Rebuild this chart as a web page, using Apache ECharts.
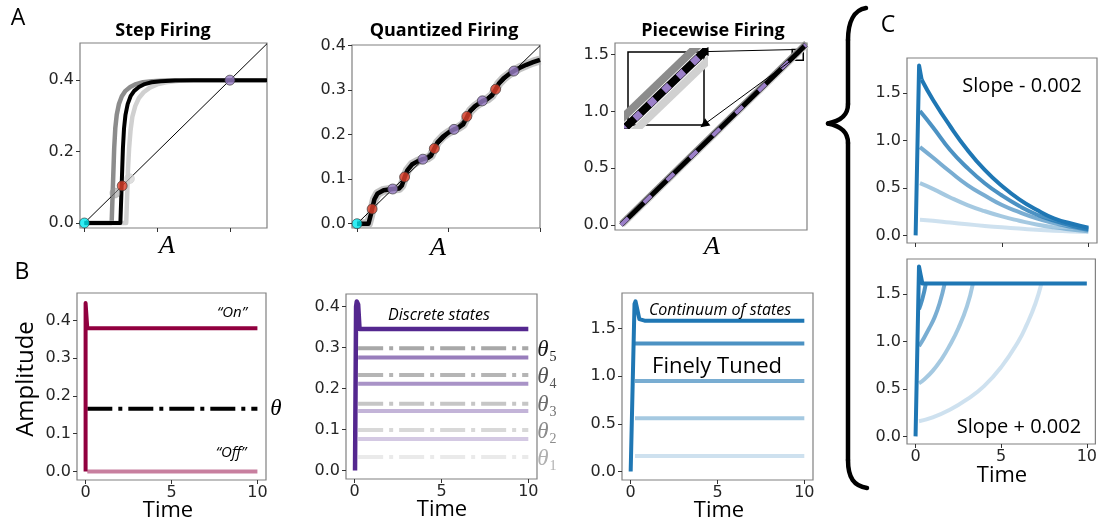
<!DOCTYPE html>
<html>
<head>
<meta charset="utf-8">
<script src="https://cdn.jsdelivr.net/npm/echarts@6/dist/echarts.min.js"></script>
<style>
  html, body { margin: 0; background: #fff; }
  #chart { width: 1100px; height: 525px; }
</style>
</head>
<body>
<div id="chart"></div>
<script>
// ---- A: firing-rate maps (x = A, y = f(A)) ----
const stepBlack = [[0,0],[0.099,0],[0.1,0.03],[0.102,0.09],[0.104,0.15],[0.106,0.21],[0.109,0.265],[0.113,0.303],[0.119,0.333],[0.127,0.355],[0.137,0.37],[0.15,0.381],[0.166,0.389],[0.185,0.394],[0.21,0.397],[0.25,0.399],[0.3,0.4],[0.502,0.4]];
const stepDark = [[0,0],[0.075,0],[0.076,0.03],[0.078,0.09],[0.08,0.15],[0.082,0.21],[0.085,0.265],[0.089,0.303],[0.095,0.333],[0.103,0.355],[0.113,0.37],[0.126,0.381],[0.142,0.389],[0.161,0.394],[0.186,0.397],[0.226,0.399],[0.28,0.4],[0.502,0.4]];
const stepLight = [[0,0],[0.115,0],[0.116,0.03],[0.118,0.09],[0.12,0.15],[0.123,0.21],[0.127,0.26],[0.132,0.298],[0.14,0.328],[0.15,0.35],[0.163,0.366],[0.18,0.379],[0.2,0.388],[0.225,0.394],[0.26,0.398],[0.3,0.4],[0.502,0.4]];
const stepDiag = [[0,0],[0.502,0.502]];
const stepZero = [[0,0]];
const stepUnstable = [[0.104,0.104]];
const stepStable = [[0.4,0.4]];
const stepFadedDark = [[0.084,0.084]];
const stepFadedLight = [[0.124,0.124]];

const quantBlack = [[0,0],[0.025,0],[0.03,0.02],[0.033,0.033],[0.038,0.055],[0.045,0.068],[0.058,0.075],[0.078,0.078],[0.092,0.079],[0.098,0.086],[0.104,0.104],[0.11,0.12],[0.12,0.133],[0.132,0.14],[0.144,0.145],[0.155,0.148],[0.162,0.153],[0.169,0.169],[0.176,0.183],[0.188,0.196],[0.2,0.205],[0.212,0.212],[0.222,0.216],[0.232,0.223],[0.241,0.241],[0.248,0.254],[0.258,0.264],[0.268,0.271],[0.275,0.276],[0.285,0.28],[0.295,0.288],[0.303,0.302],[0.31,0.315],[0.32,0.326],[0.332,0.336],[0.343,0.343],[0.355,0.35],[0.37,0.357],[0.385,0.363],[0.4,0.368]];
const quantDiag = [[0,0],[0.4,0.4]];
const quantZero = [[0,0]];
const quantUnstable = [[0.033,0.033],[0.104,0.105],[0.169,0.169],[0.24,0.241],[0.303,0.302]];
const quantStable = [[0.078,0.078],[0.144,0.145],[0.212,0.212],[0.274,0.276],[0.343,0.343]];

const pieceLine = [[0,0],[1.588,1.588]];
const pieceUpper = [[0,0.016],[1.588,1.604]];
const pieceLower = [[0.016,0],[1.597,1.581]];
const insetBox = [[1.47,1.45],[1.565,1.545]];
const insetArrows = [[[1.47,1.545],[0.713,1.527]], [[1.49,1.47],[0.713,0.885]]];

// ---- B: amplitude over time ----
const onTrace = [[0,0],[0,0.446],[0.05,0.446],[0.1,0.379],[10,0.379]];
const offTrace = [[0.1,0],[10,0]];
const thetaTrace = [[0.1,0.166],[10,0.166]];

const discreteTop = [[0.02,0],[0.08,0.4],[0.12,0.412],[0.2,0.405],[0.28,0.345],[10,0.345]];
const discreteLevels = [0.276, 0.212, 0.145, 0.077];
const discreteThresholds = [0.298, 0.233, 0.163, 0.099, 0.033];
const levelSpan = [0.2, 10];

const contTop = [[0,0],[0.22,1.76],[0.28,1.787],[0.36,1.72],[0.5,1.6],[0.8,1.584],[10,1.584]];
const contLevels = [1.345, 0.951, 0.558, 0.161];
const contSpan = [0.25, 10];

// ---- C: mistuned slopes ----
const slopeMinusRise = [[0,0],[0.2,1.79],[0.27,1.77],[0.35,1.64]];
const slopeMinus = [
  [[0.35,1.64],[1,1.43],[2,1.15],[3,0.9],[4,0.69],[5,0.52],[6,0.38],[7,0.27],[8,0.18],[9,0.125],[10,0.08]],
  [[0.25,1.31],[1,1.14],[2,0.9],[3,0.71],[4,0.55],[5,0.42],[6,0.31],[7,0.22],[8,0.155],[9,0.105],[10,0.068]],
  [[0.25,0.93],[1,0.82],[2,0.67],[3,0.53],[4,0.42],[5,0.32],[6,0.245],[7,0.18],[8,0.13],[9,0.09],[10,0.058]],
  [[0.25,0.55],[1,0.49],[2,0.4],[3,0.32],[4,0.255],[5,0.2],[6,0.155],[7,0.115],[8,0.085],[9,0.063],[10,0.045]],
  [[0.25,0.165],[1,0.155],[2,0.135],[3,0.117],[4,0.1],[5,0.085],[6,0.072],[7,0.06],[8,0.05],[9,0.042],[10,0.035]]
];
const slopePlusTop = [[0,0],[0.2,1.79],[0.3,1.7],[0.4,1.61],[10,1.61]];
const slopePlus = [
  [[0.2,1.34],[0.4,1.45],[0.6,1.61]],
  [[0.2,0.95],[0.5,1.04],[0.8,1.14],[1.1,1.25],[1.4,1.4],[1.7,1.61]],
  [[0.2,0.56],[0.5,0.6],[1,0.69],[1.5,0.81],[2,0.96],[2.5,1.14],[3,1.37],[3.35,1.61]],
  [[0.2,0.16],[1,0.2],[2,0.28],[3,0.39],[4,0.53],[5,0.73],[6,1.0],[6.5,1.18],[7,1.4],[7.35,1.61]]
];

// tick values
const ticksA1 = [0, 0.2, 0.4];
const ticksA2y = [0, 0.1, 0.2, 0.3, 0.4];
const ticksA3y = [0, 0.5, 1.0, 1.5];
const ticksBy = [0, 0.1, 0.2, 0.3, 0.4];
const ticksCy = [0, 0.5, 1.0, 1.5];
const ticksTime = [0, 5, 10];

const TICKFONT = 'DejaVu Sans';
const SANS = '"Open Sans", Lato, sans-serif';
const SERIF = '"Liberation Serif", "DejaVu Serif", serif';
const BLUE = '31,119,180';
const PURPLE = '84,39,143';

const grids = [
  {left: 80, top: 43, width: 187, height: 185},   // A1
  {left: 352, top: 45, width: 188, height: 183},  // A2
  {left: 615, top: 43, width: 192, height: 187},  // A3
  {left: 77, top: 293, width: 189, height: 187},  // B1
  {left: 346, top: 294, width: 191, height: 185}, // B2
  {left: 622, top: 293, width: 191, height: 187}, // B3
  {left: 907, top: 58, width: 190, height: 185},  // C top
  {left: 907, top: 259, width: 190, height: 185}, // C bottom
  {left: 628, top: 52, width: 76, height: 73}     // inset
].map((g, i) => Object.assign({
  show: true, borderColor: i === 8 ? '#000' : '#808080', borderWidth: i === 8 ? 1.5 : 1.2,
  backgroundColor: '#fff', containLabel: false
}, g));

const xAxes = [], yAxes = [];
function addAxes(gi, xr, yr, xt, xLab, yt, yDec) {
  const hide = !xt && !yt;
  xAxes.push({
    type: 'value', gridIndex: gi, min: xr[0], max: xr[1], show: !hide,
    splitLine: {show: false}, axisLine: {show: false, onZero: false},
    axisTick: {show: !!xt, length: 4, lineStyle: {color: '#333'}, customValues: xt || []},
    axisLabel: {show: !!xt && xLab, customValues: xt || [], margin: 5, fontFamily: TICKFONT, fontSize: 16, color: '#262626',
      formatter: v => String(v)}
  });
  yAxes.push({
    type: 'value', gridIndex: gi, min: yr[0], max: yr[1], show: !hide,
    splitLine: {show: false}, axisLine: {show: false, onZero: false},
    axisTick: {show: !!yt, length: 4, lineStyle: {color: '#333'}, customValues: yt || []},
    axisLabel: {show: !!yt, customValues: yt || [], margin: 6, fontFamily: TICKFONT, fontSize: 16, color: '#262626',
      formatter: v => v.toFixed(yDec)}
  });
}
addAxes(0, [-0.012, 0.502], [-0.014, 0.504], ticksA1, false, ticksA1, 1);
addAxes(1, [-0.011, 0.4], [-0.0096, 0.4015], ticksA1, false, ticksA2y, 1);
addAxes(2, [-0.052, 1.597], [-0.044, 1.603], null, false, ticksA3y, 1);
addAxes(3, [-0.5, 10.5], [-0.0225, 0.4725], ticksTime, true, ticksBy, 1);
addAxes(4, [-0.5, 10.5], [-0.0205, 0.4305], ticksTime, true, ticksBy, 1);
addAxes(5, [-0.5, 10.5], [-0.09, 1.875], ticksTime, true, ticksCy, 1);
addAxes(6, [-0.5, 10.5], [-0.08, 1.869], ticksTime, false, ticksCy, 1);
addAxes(7, [-0.5, 10.5], [-0.08, 1.869], ticksTime, true, ticksCy, 1);
addAxes(8, [1.47, 1.565], [1.47, 1.565], null, false, null, 1);

function line(gi, data, color, width, extra) {
  return Object.assign({
    type: 'line', xAxisIndex: gi, yAxisIndex: gi, data: data, showSymbol: false, symbol: 'none',
    silent: true, animation: false, lineStyle: {color: color, width: width, cap: 'butt', join: 'round'}
  }, extra || {});
}
function dots(gi, data, color, border) {
  return {
    type: 'scatter', xAxisIndex: gi, yAxisIndex: gi, data: data, symbolSize: 10, z: 5,
    silent: true, animation: false, itemStyle: {color: color, borderColor: border || '#333', borderWidth: 0.8}
  };
}
const DASHDOT = [25, 6, 4, 6];

const series = [];
// A1
series.push(line(0, stepDark, '#8c8c8c', 4.5));
series.push(line(0, stepLight, '#d0d0d0', 4.5));
series.push(line(0, stepBlack, '#000', 4));
series.push(line(0, stepDiag, '#000', 1));
series.push(dots(0, stepFadedDark, 'rgba(150,150,150,0.7)', 'rgba(150,150,150,0.7)'));
series.push(dots(0, stepFadedLight, 'rgba(205,205,205,0.8)', 'rgba(205,205,205,0.8)'));
series.push(dots(0, stepZero, '#00e8f0'));
series.push(dots(0, stepUnstable, '#e0402a'));
series.push(dots(0, stepStable, '#9b7fc8'));
// A2
series.push(line(1, quantBlack, 'rgba(175,175,175,0.75)', 9));
series.push(line(1, quantBlack, '#000', 4.5));
series.push(line(1, quantDiag, '#000', 1));
series.push(dots(1, quantZero, '#00e8f0'));
series.push(dots(1, quantUnstable, '#e0402a'));
series.push(dots(1, quantStable, '#9b7fc8'));
// A3 + inset (inset draws the same lines, magnified)
[2, 8].forEach(gi => {
  const w = gi === 8 ? 8 : 5;
  series.push(line(gi, pieceUpper, '#8c8c8c', w));
  series.push(line(gi, pieceLower, '#d0d0d0', w));
  const black = line(gi, pieceLine, '#000', w);
  if (gi === 2) {
    black.markArea = {silent: true, itemStyle: {color: 'rgba(0,0,0,0)', borderColor: '#000', borderWidth: 1.5},
      data: [[{coord: insetBox[0]}, {coord: insetBox[1]}]]};
    black.markLine = {silent: true, symbol: ['none', 'triangle'], symbolSize: 9, animation: false,
      label: {show: false}, lineStyle: {color: '#000', width: 1, type: 'solid'},
      data: insetArrows.map(a => [{coord: a[0]}, {coord: a[1]}])};
  }
  series.push(black);
  series.push(line(gi, pieceLine, '#9b7fc8', w - 1,
    {lineStyle: {color: '#9b7fc8', width: w - 1, type: gi === 8 ? [8, 12] : [10, 22], cap: 'butt'}}));
});
// B1
series.push(line(3, offTrace, 'rgba(145,0,63,0.5)', 4));
series.push(line(3, thetaTrace, '#000', 4, {lineStyle: {color: '#000', width: 4, type: DASHDOT, cap: 'butt'}}));
series.push(line(3, onTrace, '#91003f', 4));
// B2
const thetaGrays = ['#a8a8a8', '#b5b5b5', '#c6c6c6', '#d8d8d8', '#eaeaea'];
discreteThresholds.forEach((v, i) => {
  series.push(line(4, [[levelSpan[0], v], [levelSpan[1], v]], thetaGrays[i], 4,
    {lineStyle: {color: thetaGrays[i], width: 4, type: DASHDOT, cap: 'butt'}}));
});
const purpleAlpha = [0.6, 0.5, 0.35, 0.25];
discreteLevels.forEach((v, i) => {
  series.push(line(4, [[levelSpan[0], v], [levelSpan[1], v]], 'rgba(' + PURPLE + ',' + purpleAlpha[i] + ')', 4));
});
series.push(line(4, discreteTop, 'rgb(' + PURPLE + ')', 4.5));
// B3
const blueAlpha = [0.8, 0.6, 0.4, 0.22];
contLevels.forEach((v, i) => {
  series.push(line(5, [[contSpan[0], v], [contSpan[1], v]], 'rgba(' + BLUE + ',' + blueAlpha[i] + ')', 4));
});
series.push(line(5, contTop, 'rgb(' + BLUE + ')', 4));
// C top: decays
const cAlpha = [1, 0.8, 0.6, 0.4, 0.22];
for (let i = 4; i >= 0; i--) {
  series.push(line(6, slopeMinus[i], 'rgba(' + BLUE + ',' + cAlpha[i] + ')', 4, {smooth: 0.5}));
}
series.push(line(6, slopeMinusRise, 'rgb(' + BLUE + ')', 4));
// C bottom: runaway growth
for (let i = 3; i >= 0; i--) {
  series.push(line(7, slopePlus[i], 'rgba(' + BLUE + ',' + cAlpha[i + 1] + ')', 4, {smooth: 0.5}));
}
series.push(line(7, slopePlusTop, 'rgb(' + BLUE + ')', 4));

function txt(x, y, text, font, fill, rot) {
  return {type: 'text', x: x, y: y, rotation: rot || 0, silent: true, z: 100,
    style: {text: text, font: font, fill: fill || '#000', align: 'center', verticalAlign: 'middle',
      textAlign: 'center', textVerticalAlign: 'middle'}};
}
function curve(p) {
  return {type: 'bezierCurve', silent: true, z: 100,
    shape: {x1: p[0], y1: p[1], cpx1: p[2], cpy1: p[3], cpx2: p[4], cpy2: p[5], x2: p[6], y2: p[7]},
    style: {stroke: '#000', lineWidth: 4.5, fill: null, lineCap: 'round'}};
}
function seg(p) {
  return {type: 'line', silent: true, z: 100, shape: {x1: p[0], y1: p[1], x2: p[2], y2: p[3]},
    style: {stroke: '#000', lineWidth: 4.5, lineCap: 'round'}};
}
const thetaColors = ['#1a1a1a', '#555555', '#6e6e6e', '#8c8c8c', '#b0b0b0'];
const thetaY = [350, 377, 405, 432, 459];
const graphics = [
  txt(18, 18, 'A', '23px ' + SANS),
  txt(22, 272, 'B', '23px ' + SANS),
  txt(888, 25, 'C', '23px ' + SANS),
  txt(163, 31, 'Step Firing', 'bold 18px ' + SANS),
  txt(444, 31, 'Quantized Firing', 'bold 18px ' + SANS),
  txt(713, 31, 'Piecewise Firing', 'bold 18px ' + SANS),
  txt(167, 246, 'A', 'italic 26px ' + SERIF),
  txt(438, 248, 'A', 'italic 26px ' + SERIF),
  txt(712, 247, 'A', 'italic 26px ' + SERIF),
  txt(26, 379, 'Amplitude', '24px ' + SANS, '#000', Math.PI / 2),
  txt(168, 511, 'Time', '22px ' + SANS),
  txt(442, 510, 'Time', '22px ' + SANS),
  txt(719, 511, 'Time', '22px ' + SANS),
  txt(1002, 476, 'Time', '22px ' + SANS),
  txt(232, 313, '\u201cOn\u201d', 'italic 15px ' + SANS),
  txt(231, 453, '\u201cOff\u201d', 'italic 15px ' + SANS),
  txt(276, 409, '\u03b8', 'italic 23px ' + SERIF),
  txt(439, 315, 'Discrete states', 'italic 16px ' + SANS),
  txt(720, 310, 'Continuum of states', 'italic 16px ' + SANS),
  txt(717, 367, 'Finely Tuned', '22px ' + SANS),
  txt(1022, 86, 'Slope - 0.002', '20px ' + SANS),
  txt(1019, 427, 'Slope + 0.002', '20px ' + SANS),
  curve([866, 8, 854, 10, 848, 22, 848, 40]),
  seg([848, 40, 848, 104]),
  curve([848, 104, 848, 116, 840, 121, 828, 123.5]),
  curve([828, 123.5, 840, 126, 848, 131, 848, 143]),
  seg([848, 143, 848, 460]),
  curve([848, 460, 848, 478, 854, 486, 867, 488])
];
thetaY.forEach((y, i) => {
  graphics.push(txt(543, y, '\u03b8', 'italic 23px ' + SERIF, thetaColors[i]));
  graphics.push(txt(553, y + 7, String(5 - i), '14px ' + SERIF, thetaColors[i]));
});

const chart = echarts.init(document.getElementById('chart'), null, {renderer: 'canvas'});
chart.setOption({
  backgroundColor: '#fff',
  animation: false,
  grid: grids,
  xAxis: xAxes,
  yAxis: yAxes,
  series: series,
  graphic: {elements: graphics}
});
</script>
</body>
</html>
